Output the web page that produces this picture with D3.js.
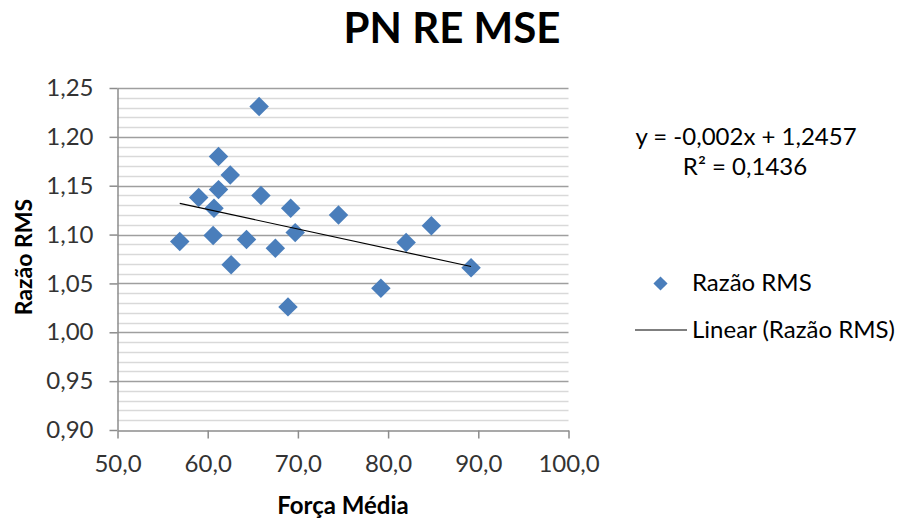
<!DOCTYPE html>
<html>
<head>
<meta charset="utf-8">
<script src="https://cdn.jsdelivr.net/npm/d3@7"></script>
<style>
  html, body { margin: 0; padding: 0; background: #fff; }
  svg { display: block; }
</style>
</head>
<body>
<svg id="chart" width="902" height="521"></svg>
<script>
// Série: Força Média (x) vs Razão RMS (y)
const forcaMedia = [65.7, 61.2, 62.5, 61.2, 59.0, 65.9, 60.7, 69.2, 74.5, 69.7,
                    60.6, 56.9, 64.3, 67.5, 62.6, 68.9, 82.0, 84.8, 79.2, 89.2];
const razaoRMS   = [1.231, 1.180, 1.161, 1.146, 1.138, 1.140, 1.127, 1.127, 1.120, 1.102,
                    1.099, 1.093, 1.095, 1.086, 1.069, 1.026, 1.092, 1.109, 1.045, 1.066];

// Linha de tendência linear (coeficientes da equação exibida)
const trendSlope = -0.002;
const trendIntercept = 1.2457;
const trendR2 = 0.1436;

const xTicks = [50, 60, 70, 80, 90, 100];
const yTicks = [0.90, 0.95, 1.00, 1.05, 1.10, 1.15, 1.20, 1.25];
const yMinorTicks = d3.range(90, 126, 1).map(v => v / 100);

const fmtX = v => d3.format(".1f")(v).replace(".", ",");
const fmtY = v => d3.format(".2f")(v).replace(".", ",");
const fmt4 = v => String(v).replace(".", ",");

const svg = d3.select("#chart");
const font = "Lato, 'Open Sans', sans-serif";

const x = d3.scaleLinear().domain([50, 100]).range([117.5, 568.5]);
const y = d3.scaleLinear().domain([0.90, 1.25]).range([430, 88]);

// Grade secundária
svg.append("g").selectAll("line")
  .data(yMinorTicks.filter(v => !yTicks.some(t => Math.abs(t - v) < 1e-9)))
  .join("line")
  .attr("x1", x(50)).attr("x2", x(100))
  .attr("y1", d => Math.round(y(d)) + 0.5).attr("y2", d => Math.round(y(d)) + 0.5)
  .attr("stroke", "#d9d9d9").attr("stroke-width", 1.5);

// Grade principal
svg.append("g").selectAll("line")
  .data(yTicks.filter(v => v > 0.9))
  .join("line")
  .attr("x1", x(50)).attr("x2", x(100))
  .attr("y1", d => Math.round(y(d)) + 0.5).attr("y2", d => Math.round(y(d)) + 0.5)
  .attr("stroke", "#9f9f9f").attr("stroke-width", 1.5);

// Eixos
const xAxis = d3.axisBottom(x).tickValues(xTicks).tickFormat(fmtX).tickSizeInner(8).tickSizeOuter(0).tickPadding(16);
const yAxis = d3.axisLeft(y).tickValues(yTicks).tickFormat(fmtY).tickSizeInner(8).tickSizeOuter(0).tickPadding(16);

const gx = svg.append("g").attr("transform", "translate(0,430.5)").call(xAxis);
const gy = svg.append("g").attr("transform", "translate(117.5,0)").call(yAxis);

[gx, gy].forEach(g => {
  g.select(".domain").attr("stroke", "#8c8c8c").attr("stroke-width", 1.5);
  g.selectAll(".tick line").attr("stroke", "#8c8c8c").attr("stroke-width", 1.5);
  g.selectAll(".tick text").attr("fill", "#333").style("font-family", font).style("font-size", "24px");
});

// Pontos (losangos)
const diamond = d3.symbol().type(d3.symbolDiamond2).size(2 * 11 * 11);
svg.append("g").selectAll("path")
  .data(forcaMedia.map((f, i) => [f, razaoRMS[i]]))
  .join("path")
  .attr("d", diamond)
  .attr("transform", d => `translate(${x(d[0])},${y(d[1])})`)
  .attr("fill", "#4a7ebb");

// Linha de tendência
const xExt = d3.extent(forcaMedia);
svg.append("line")
  .attr("x1", x(xExt[0])).attr("y1", y(trendSlope * xExt[0] + trendIntercept))
  .attr("x2", x(xExt[1])).attr("y2", y(trendSlope * xExt[1] + trendIntercept))
  .attr("stroke", "#000").attr("stroke-width", 1.2);

// Título
svg.append("text")
  .attr("x", 452).attr("y", 43)
  .attr("text-anchor", "middle")
  .style("font-family", font).style("font-weight", "bold").style("font-size", "42px")
  .attr("fill", "#000")
  .text("PN RE MSE");

// Títulos dos eixos
svg.append("text")
  .attr("x", 343).attr("y", 514)
  .attr("text-anchor", "middle")
  .style("font-family", font).style("font-weight", "bold").style("font-size", "24px")
  .attr("fill", "#000")
  .text("Força Média");

svg.append("text")
  .attr("transform", "translate(32,257) rotate(-90)")
  .attr("text-anchor", "middle")
  .style("font-family", font).style("font-weight", "bold").style("font-size", "23px")
  .attr("fill", "#000")
  .text("Razão RMS");

// Equação da tendência
const eq = svg.append("text")
  .attr("text-anchor", "middle")
  .style("font-family", font).style("font-size", "24px").attr("fill", "#000");
eq.append("tspan").attr("x", 746).attr("y", 145)
  .text(`y = ${fmt4(trendSlope)}x + ${fmt4(trendIntercept)}`);
eq.append("tspan").attr("x", 745).attr("y", 175)
  .text(`R² = ${fmt4(trendR2)}`);

// Legenda
const leg = svg.append("g");
leg.append("path")
  .attr("d", d3.symbol().type(d3.symbolDiamond2).size(2 * 8 * 8))
  .attr("transform", "translate(660.5,283.5)")
  .attr("fill", "#4a7ebb");
leg.append("text").attr("x", 692).attr("y", 291)
  .style("font-family", font).style("font-size", "24px").attr("fill", "#000")
  .text("Razão RMS");
leg.append("line").attr("x1", 635).attr("x2", 687).attr("y1", 330).attr("y2", 330)
  .attr("stroke", "#000").attr("stroke-width", 1.2);
leg.append("text").attr("x", 692).attr("y", 338)
  .style("font-family", font).style("font-size", "24px").attr("fill", "#000")
  .text("Linear (Razão RMS)");
</script>
</body>
</html>
